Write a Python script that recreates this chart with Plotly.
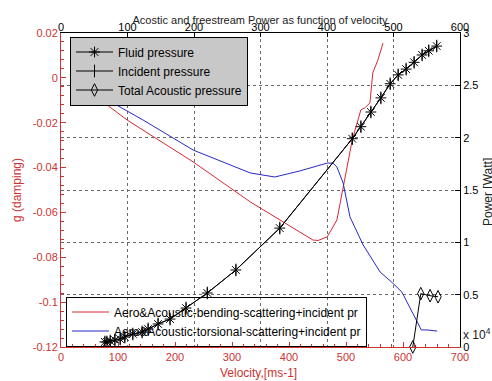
import plotly.graph_objects as go

# ---- data (bottom axis: velocity, left axis: damping) ----
velocity_bend = [50, 65, 116, 232, 332, 389, 442, 451, 467, 484, 495, 504, 511, 521, 526, 533, 542, 547, 556, 565]
g_bend = [-0.0068, -0.0090, -0.0188, -0.0375, -0.0553, -0.0643, -0.0723, -0.0725, -0.0709, -0.0634,
          -0.0487, -0.0366, -0.0277, -0.0188, -0.0143, -0.0134, -0.0112, 0.0022, 0.0080, 0.0155]

velocity_tors = [50, 82, 144, 232, 332, 375, 419, 467, 477, 484, 495, 507, 530, 547, 560, 582, 598, 625, 632, 642, 660]
g_tors = [-0.0051, -0.0099, -0.0188, -0.0322, -0.0424, -0.0442, -0.0415, -0.0380, -0.0380, -0.0397, -0.0469,
          -0.0620, -0.0745, -0.0812, -0.0866, -0.0915, -0.0955, -0.1088, -0.1124, -0.1124, -0.1129]

# ---- data (top axis, right axis: power x 1e4) ----
vel_fluid = [66, 69, 74, 81, 89, 96, 108, 122, 131, 146, 164, 188, 220, 263, 329, 438, 451, 466, 481, 495,
             507, 519, 531, 543, 553, 565]
power_fluid = [0.048, 0.048, 0.057, 0.067, 0.076, 0.095, 0.124, 0.143, 0.172, 0.22, 0.267, 0.372, 0.516, 0.736,
               1.136, 1.99, 2.105, 2.245, 2.38, 2.515, 2.6, 2.655, 2.72, 2.79, 2.83, 2.875]
vel_incident = vel_fluid
power_incident = power_fluid
vel_total = [529, 541, 555, 567]
power_total = [0.0, 0.51, 0.49, 0.48]

# ---- ticks ----
left_tickvals = [-0.12, -0.1, -0.08, -0.06, -0.04, -0.02, 0, 0.02]
left_ticktext = ["-0.12", "-0.1", "-0.08", "-0.06", "-0.04", "-0.02", "0", "0.02"]
bottom_ticks = [0, 100, 200, 300, 400, 500, 600, 700]
top_ticks = [0, 100, 200, 300, 400, 500, 600]
right_tickvals = [0, 0.5, 1, 1.5, 2, 2.5, 3]
right_ticktext = ["0", "0.5", "1", "1.5", "2", "2.5", "3"]

RED = "#cc3333"
FONT = "Liberation Sans"

fig = go.Figure()

fig.add_trace(go.Scatter(x=velocity_bend, y=g_bend, mode="lines", name="Aero&Acoustic-bending-scattering+incident pr",
                         line=dict(color="rgb(215,40,50)", width=1), legend="legend2"))
fig.add_trace(go.Scatter(x=velocity_tors, y=g_tors, mode="lines", name="Aero&Acoustic-torsional-scattering+incident pr",
                         line=dict(color="rgb(40,40,200)", width=1), legend="legend2"))

fig.add_trace(go.Scatter(x=vel_fluid, y=power_fluid, mode="lines+markers", name="Fluid pressure",
                         xaxis="x2", yaxis="y2", line=dict(color="black", width=1),
                         marker=dict(symbol="asterisk-open", size=9, color="black", line=dict(width=1, color="black"))))
fig.add_trace(go.Scatter(x=vel_incident, y=power_incident, mode="lines+markers", name="Incident pressure",
                         xaxis="x2", yaxis="y2", line=dict(color="black", width=1),
                         marker=dict(symbol="line-ns-open", size=9, color="black", line=dict(width=1, color="black"))))
fig.add_trace(go.Scatter(x=vel_total, y=power_total, mode="lines+markers", name="Total Acoustic pressure",
                         xaxis="x2", yaxis="y2", line=dict(color="black", width=1), cliponaxis=False,
                         marker=dict(symbol="diamond-tall-open", size=9, color="black", line=dict(width=1, color="black"))))

fig.update_layout(
    width=492, height=381,
    margin=dict(l=61, r=32, t=33, b=34),
    paper_bgcolor="white", plot_bgcolor="white",
    font=dict(family=FONT, size=11, color="black"),
    title=dict(text="Acostic and freestream Power as function of velocity", x=260 / 492, xanchor="center",
               y=1 - 20 / 381, yanchor="middle", font=dict(size=11, color="#222")),
    xaxis=dict(range=[0, 700], tickvals=bottom_ticks, ticks="inside", ticklen=5, tickcolor=RED,
               showline=True, linecolor=RED, linewidth=1, showgrid=False, zeroline=False,
               tickfont=dict(color=RED, size=11),
               minor=dict(ticks="inside", ticklen=3, dtick=20, tickcolor=RED)),
    yaxis=dict(range=[-0.12, 0.02], tickvals=left_tickvals, ticktext=left_ticktext, ticks="inside", ticklen=5,
               tickcolor=RED, showline=True, linecolor=RED, linewidth=1, showgrid=False, zeroline=False,
               tickfont=dict(color=RED, size=11),
               minor=dict(ticks="inside", ticklen=3, dtick=0.004, tickcolor=RED)),
    xaxis2=dict(range=[0, 600], overlaying="x", side="top", anchor="y2", tickvals=top_ticks, ticks="inside",
                ticklen=4, tickcolor="black", showline=True, linecolor="black", linewidth=1,
                showgrid=True, gridcolor="#6a6a6a", griddash="dot", gridwidth=1, zeroline=False,
                ticklabelstandoff=-3, tickfont=dict(color="black", size=11)),
    yaxis2=dict(range=[0, 3], overlaying="y", side="right", anchor="x2", tickvals=right_tickvals,
                ticktext=right_ticktext, ticks="inside", ticklen=5, tickcolor="black", showline=True,
                linecolor="black", linewidth=1, showgrid=True, gridcolor="#6a6a6a", griddash="dot", gridwidth=1,
                zeroline=False, tickfont=dict(color="black", size=11)),
    legend=dict(x=(70 - 61) / 399, y=(347 - 71) / 314, xanchor="left", yanchor="middle",
                bgcolor="#c8c8c8", bordercolor="black", borderwidth=1, itemwidth=37,
                font=dict(size=12, color="black"), tracegroupgap=0),
    legend2=dict(x=(66 - 61) / 399, y=(347 - 321.5) / 314, xanchor="left", yanchor="middle",
                 bgcolor="rgba(255,255,255,0)", bordercolor="black", borderwidth=1, itemwidth=37,
                 font=dict(size=12, color="black")),
    showlegend=True,
)

fig.add_annotation(text="g (damping)", x=(17 - 61) / 399, y=(347 - 190) / 314, xref="paper", yref="paper",
                   textangle=-90, showarrow=False, font=dict(size=12, color=RED), xanchor="center", yanchor="middle")
fig.add_annotation(text="Velocity,[ms-1]", x=(258 - 61) / 399, y=-(373 - 347) / 314, xref="paper", yref="paper",
                   showarrow=False, font=dict(size=12, color=RED), xanchor="center", yanchor="middle")
fig.add_annotation(text="Power [Watt]", x=(488 - 61) / 399, y=(347 - 192) / 314, xref="paper", yref="paper",
                   textangle=-90, showarrow=False, font=dict(size=12, color="#222"), xanchor="center", yanchor="middle")
fig.add_annotation(text="x 10<sup>4</sup>", x=(461 - 61) / 399, y=(347 - 334) / 314, xref="paper", yref="paper",
                   showarrow=False, font=dict(size=12, color="#222"), xanchor="left", yanchor="middle")

fig.write_html("out.html")
